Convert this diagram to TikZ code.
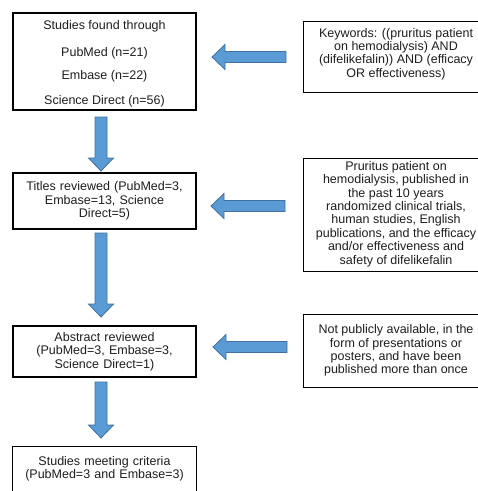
\documentclass[tikz,border=0pt]{standalone}
\usepackage{fontspec}
\setmainfont{Liberation Sans}
\usetikzlibrary{calc}
\definecolor{arrfill}{HTML}{5B9BD5}
\definecolor{arrline}{HTML}{41719C}
\definecolor{txt}{HTML}{1E1E1E}
\newcommand\larrow[2]{%
  \filldraw[barrow] ($(#1)+(0,5.5)$) -- ($(#2)+(13,5.5)$) -- ($(#2)+(13,12.5)$) -- (#2)
    -- ($(#2)+(13,-12.5)$) -- ($(#2)+(13,-5.5)$) -- ($(#1)+(0,-5.5)$) -- cycle;}
\newcommand\darrow[2]{%
  \filldraw[barrow] ($(#1)+(-6,0)$) -- ($(#2)+(-6,-13)$) -- ($(#2)+(-12.5,-13)$) -- (#2)
    -- ($(#2)+(12.5,-13)$) -- ($(#2)+(6,-13)$) -- ($(#1)+(6,0)$) -- cycle;}
\begin{document}
\begin{tikzpicture}[x=1pt,y=-1pt,
  barrow/.style={fill=arrfill,draw=arrline,line width=0.8pt,line join=miter},
  border/.style={draw=black,line width=1.1pt},
  boxtext/.style={rectangle,inner sep=0pt,align=center,
    text=txt,font=\fontsize{12.5}{13.4}\selectfont},
  leftbox/.style={boxtext,border,minimum width=183pt,text width=183pt},
  rightbox/.style={boxtext,minimum width=174pt,text width=174pt}]
\useasboundingbox (0,0) rectangle (478,491);
\fill[white] (0,0) rectangle (478,491);
% left column
\node[leftbox,minimum height=97pt] (A) at (104.5,61.5) {};
\node[boxtext,anchor=north] (At) at (104.5,20)
  {Studies found through\\[13.6pt]PubMed (n=21)\\[9.6pt]Embase (n=22)\\[11.6pt]Science Direct (n=56)};
\node[leftbox,minimum height=56pt] (B) at (104.5,201)
  {Titles reviewed (PubMed=3,\\Embase=13, Science\\Direct=5)};
\node[leftbox,minimum height=51pt] (C) at (104.5,351.5)
  {Abstract reviewed\\(PubMed=3, Embase=3,\\Science Direct=1)};
\node[boxtext,minimum width=183pt,text width=183pt,minimum height=44pt] (D) at (104.5,469)
  {Studies meeting criteria\\(PubMed=3 and Embase=3)};
\draw[border] (D.south west) -- (D.north west) -- (D.north east) -- (D.south east);
% right column (text centred at x=396, box runs off the right edge)
\node[rightbox,minimum height=70pt] (R1) at (391,57) {};
\node[boxtext] (R1t) at (396,54)
  {Keywords: ((pruritus patient\\on hemodialysis) AND\\(difelikefalin)) AND (efficacy\\OR effectiveness)};
\node[rightbox,minimum height=112pt] (R2) at (391,215) {};
\node[boxtext] (R2t) at (396,214)
  {\fontsize{12.5}{12.4}\selectfont Pruritus patient on\\hemodialysis, published in\\the past 10 years\\randomized clinical trials,\\human studies, English\\publications, and the efficacy\\and/or effectiveness and\\safety of difelikefalin};
\node[rightbox,minimum height=72pt] (R3) at (391,351) {};
\node[boxtext] (R3t) at (396,350.5)
  {Not publicly available, in the\\form of presentations or\\posters, and have been\\published more than once};
\foreach \r in {R1,R2,R3}
  \draw[border] (\r.north east) -- (\r.north west) -- (\r.south west) -- (\r.south east);
% arrow end points
\coordinate (d1s) at (101,117);
\coordinate (d1e) at (101,171);
\coordinate (d2s) at (101,233);
\coordinate (d2e) at (101,317);
\coordinate (d3s) at (101,382);
\coordinate (d3e) at (101,438);
\coordinate (l1s) at (286,57);
\coordinate (l1e) at (212,57);
\coordinate (l2s) at (285,206);
\coordinate (l2e) at (211,206);
\coordinate (l3s) at (287,347);
\coordinate (l3e) at (213,347);
\darrow{d1s}{d1e}
\darrow{d2s}{d2e}
\darrow{d3s}{d3e}
\larrow{l1s}{l1e}
\larrow{l2s}{l2e}
\larrow{l3s}{l3e}
\end{tikzpicture}
\end{document}
